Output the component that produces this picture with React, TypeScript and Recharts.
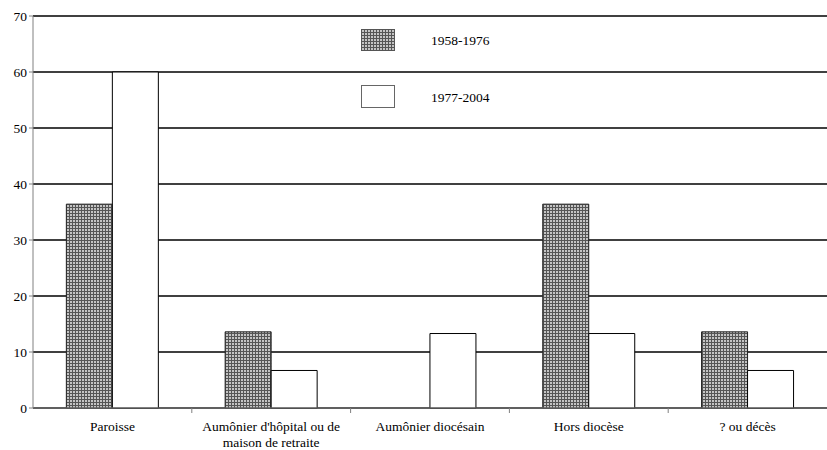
import { BarChart, Bar, XAxis, YAxis, CartesianGrid } from "recharts"

const categories = [
    ["Paroisse"],
    ["Aumônier d'hôpital ou de", "maison de retraite"],
    ["Aumônier diocésain"],
    ["Hors diocèse"],
    ["? ou décès"],
]
const early = [36.4, 13.6, 0, 36.4, 13.6]
const late = [60, 6.7, 13.3, 13.3, 6.7]
const yTicks = [0, 10, 20, 30, 40, 50, 60, 70]
const seriesNames = ["1958-1976", "1977-2004"]

const data = categories.map((lines, i) => ({
    name: lines.join(" "),
    early: early[i],
    late: late[i],
}))

const WIDTH = 827
const HEIGHT = 450
const LEFT = 33
const BAND = (WIDTH - LEFT) / categories.length
const FONT = "Liberation Serif"

function HatchDef({ id }: { id: string }) {
    return (
        <pattern id={id} width={3} height={3} patternUnits="userSpaceOnUse">
            <rect width={3} height={3} fill="#c4c4c4" />
            <rect width={3} height={1} fill="#555" />
            <rect width={1} height={3} fill="#555" />
        </pattern>
    )
}

function CategoryTick({ x, y, index }: { x?: number; y?: number; index?: number }) {
    const lines = categories[index ?? 0]
    const cx = x ?? 0
    const cy = y ?? 0
    return (
        <g>
            {index! < categories.length - 1 && (
                <line x1={cx + BAND / 2} x2={cx + BAND / 2} y1={cy - 8} y2={cy - 3} stroke="#808080" />
            )}
            {lines.map((l, i) => (
                <text key={i} x={cx} y={cy + 15 + i * 16} textAnchor="middle" style={{ fontFamily: FONT }} fontSize={13.5} fill="#000">
                    {l}
                </text>
            ))}
        </g>
    )
}

function LegendBox() {
    return (
        <svg width={160} height={90} style={{ position: "absolute", left: 361, top: 29 }}>
            <defs>
                <HatchDef id="hatchLegend" />
            </defs>
            <rect x={0.5} y={0.5} width={33} height={21} fill="url(#hatchLegend)" stroke="#555" />
            <text x={70} y={16} style={{ fontFamily: FONT }} fontSize={13.5} fill="#000">{seriesNames[0]}</text>
            <rect x={0.5} y={56.5} width={33} height={22} fill="#fff" stroke="#666" />
            <text x={70} y={73} style={{ fontFamily: FONT }} fontSize={13.5} fill="#000">{seriesNames[1]}</text>
        </svg>
    )
}

export default function App() {
    return (
        <div style={{ position: "absolute", left: 0, top: 0, width: WIDTH, height: HEIGHT, background: "#fff" }}>
            <BarChart
                width={WIDTH}
                height={HEIGHT}
                data={data}
                margin={{ top: 16, right: 0, left: 0, bottom: 0 }}
                barCategoryGap="21%"
                barGap={0}
            >
                <defs>
                    <HatchDef id="hatch" />
                </defs>
                <CartesianGrid vertical={false} stroke="#000" strokeWidth={1.3} />
                <XAxis
                    dataKey="name"
                    height={42}
                    tick={<CategoryTick />}
                    tickLine={false}
                    axisLine={{ stroke: "#808080" }}
                    interval={0}
                />
                <YAxis
                    width={LEFT}
                    domain={[0, 70]}
                    ticks={yTicks}
                    interval={0}
                    axisLine={{ stroke: "#808080" }}
                    tickLine={{ stroke: "#808080" }}
                    tickSize={4}
                    tick={{ style: { fontFamily: FONT }, fontSize: 13.5, fill: "#000" }}
                />
                <Bar dataKey="early" name={seriesNames[0]} fill="url(#hatch)" stroke="#222" strokeWidth={1} isAnimationActive={false} />
                <Bar dataKey="late" name={seriesNames[1]} fill="#fff" stroke="#000" strokeWidth={1} isAnimationActive={false} />
            </BarChart>
            <LegendBox />
        </div>
    )
}
